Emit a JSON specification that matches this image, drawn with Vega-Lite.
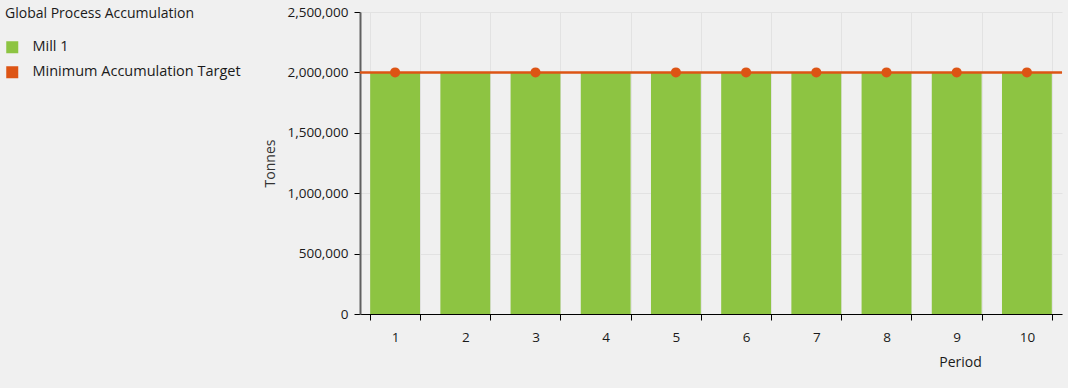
{
  "$schema": "https://vega.github.io/schema/vega-lite/v6.json",
  "width": 702,
  "height": 302,
  "autosize": {"type": "none"},
  "padding": {"left": 360, "top": 12, "right": 6, "bottom": 74},
  "background": "#f0f0f0",
  "config": {
    "font": "Open Sans",
    "view": {"stroke": null},
    "axis": {"labelFont": "Open Sans", "titleFont": "Open Sans", "labelFontSize": 13.5, "titleFontSize": 14, "titleFontWeight": "normal", "labelColor": "#1a1a1a", "titleColor": "#333333", "gridColor": "#e2e2e2", "gridWidth": 1}
  },
  "datasets": {
    "mill": [
      {"period": 1, "series": "Mill 1", "tonnes": 2000000},
      {"period": 2, "series": "Mill 1", "tonnes": 2000000},
      {"period": 3, "series": "Mill 1", "tonnes": 2000000},
      {"period": 4, "series": "Mill 1", "tonnes": 2000000},
      {"period": 5, "series": "Mill 1", "tonnes": 2000000},
      {"period": 6, "series": "Mill 1", "tonnes": 2000000},
      {"period": 7, "series": "Mill 1", "tonnes": 2000000},
      {"period": 8, "series": "Mill 1", "tonnes": 2000000},
      {"period": 9, "series": "Mill 1", "tonnes": 2000000},
      {"period": 10, "series": "Mill 1", "tonnes": 2000000}
    ],
    "target": [
      {"period": 1, "series": "Minimum Accumulation Target", "tonnes": 2000000},
      {"period": 3, "series": "Minimum Accumulation Target", "tonnes": 2000000},
      {"period": 5, "series": "Minimum Accumulation Target", "tonnes": 2000000},
      {"period": 6, "series": "Minimum Accumulation Target", "tonnes": 2000000},
      {"period": 7, "series": "Minimum Accumulation Target", "tonnes": 2000000},
      {"period": 8, "series": "Minimum Accumulation Target", "tonnes": 2000000},
      {"period": 9, "series": "Minimum Accumulation Target", "tonnes": 2000000},
      {"period": 10, "series": "Minimum Accumulation Target", "tonnes": 2000000}
    ],
    "targetLine": [
      {"series": "Minimum Accumulation Target", "tonnes": 2000000}
    ]
  },
  "layer": [
    {
      "data": {"name": "mill"},
      "mark": {"type": "bar", "opacity": 1},
      "encoding": {
        "x": {
          "field": "period", "type": "ordinal",
          "scale": {"domain": [1,2,3,4,5,6,7,8,9,10], "paddingInner": 0.29, "paddingOuter": 0.145},
          "axis": {
            "title": "Period", "labelAngle": 0, "tickBand": "extent", "grid": true,
            "domainColor": "#000000", "domainWidth": 1, "tickColor": "#000000", "tickSize": 6, "labelPadding": 10,
            "titleX": 600, "titleY": 48, "titleBaseline": "middle", "titleAnchor": null, "titleColor": "#1a1a1a"
          }
        },
        "y": {
          "field": "tonnes", "type": "quantitative",
          "scale": {"domain": [0, 2500000], "nice": false},
          "axis": {
            "title": "Tonnes", "values": [0, 500000, 1000000, 1500000, 2000000, 2500000],
            "labelExpr": "format(datum.value, ',')",
            "domainColor": "#606060", "domainWidth": 2, "tickColor": "#000000", "tickSize": 6, "labelPadding": 6,
            "titleX": -90, "titleY": 151, "titleBaseline": "middle", "titleAlign": "center", "titleAngle": -90
          }
        },
        "color": {
          "field": "series", "type": "nominal",
          "scale": {"domain": ["Mill 1", "Minimum Accumulation Target"], "range": ["#8dc442", "#dd5414"]},
          "legend": {
            "title": "Global Process Accumulation", "orient": "none", "legendX": -355, "legendY": -5,
            "titleFontSize": 14, "titleFontWeight": "normal", "titleColor": "#1a1a1a", "titleFont": "Open Sans", "titleLimit": 400,
            "labelFontSize": 14.5, "labelColor": "#1a1a1a", "labelFont": "Open Sans", "labelOffset": 13, "labelLimit": 400,
            "symbolType": "square", "symbolSize": 144, "symbolStrokeWidth": 0, "symbolOpacity": 1,
            "rowPadding": 10, "titlePadding": 19, "offset": 0, "padding": 0
          }
        }
      }
    },
    {
      "data": {"name": "targetLine"},
      "mark": {"type": "rule", "strokeWidth": 2.5},
      "encoding": {
        "y": {"field": "tonnes", "type": "quantitative"},
        "color": {"field": "series", "type": "nominal"}
      }
    },
    {
      "data": {"name": "target"},
      "mark": {"type": "point", "filled": true, "size": 100, "opacity": 1, "shape": "circle"},
      "encoding": {
        "x": {"field": "period", "type": "ordinal"},
        "y": {"field": "tonnes", "type": "quantitative"},
        "color": {"field": "series", "type": "nominal"}
      }
    }
  ]
}
